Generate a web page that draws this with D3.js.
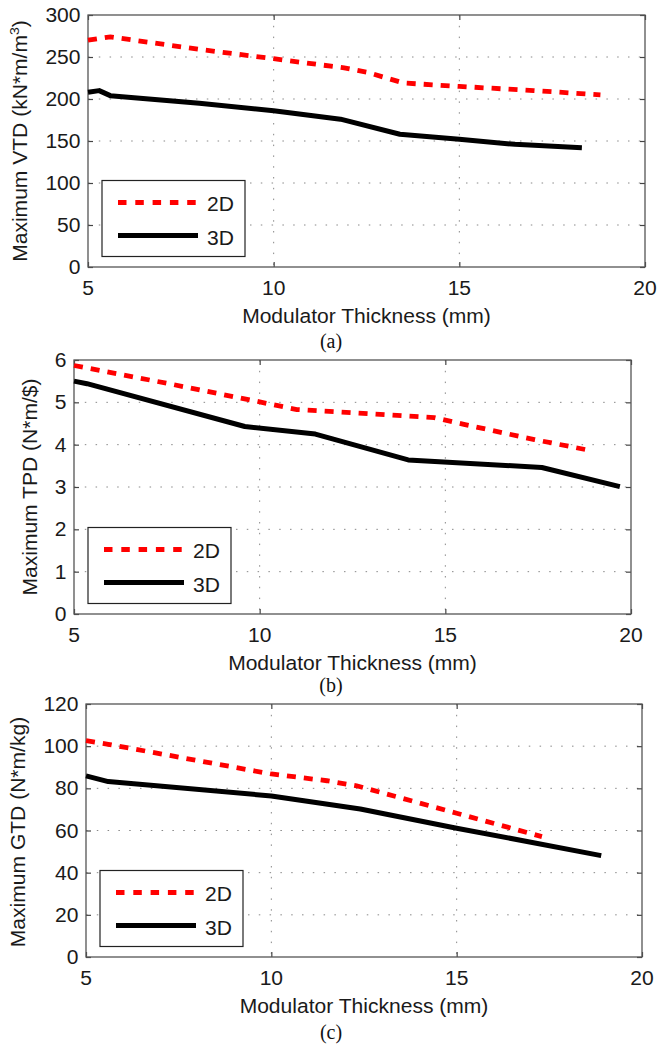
<!DOCTYPE html>
<html>
<head>
<meta charset="utf-8">
<script src="https://cdn.jsdelivr.net/npm/d3@7"></script>
<style>
  body { margin: 0; background: #fff; }
  svg text { font-family: "Liberation Sans", Arial, sans-serif; fill: #1a1a1a; }
</style>
</head>
<body>
<script>
// x values (mm) and y values, one pair of arrays per curve
var vtd2dX = [5, 5.6, 8, 10, 11.9, 12.5, 13.5, 15, 17, 18.8];
var vtd2dY = [270, 274, 259, 248, 237, 232, 219, 215, 210, 205];
var vtd3dX = [5, 5.3, 5.6, 8, 10, 11.8, 13.4, 15, 16.5, 18.3];
var vtd3dY = [208, 210, 204, 195, 186, 176, 158, 152, 146, 142];

var tpd2dX = [5, 7.5, 10, 11, 13, 14.7, 15.5, 17.4, 18.8];
var tpd2dY = [5.87, 5.45, 5.01, 4.83, 4.73, 4.64, 4.48, 4.12, 3.88];
var tpd3dX = [5, 5.35, 9.6, 11.5, 14, 17.6, 19.7];
var tpd3dY = [5.50, 5.44, 4.43, 4.25, 3.64, 3.46, 3.01];

var gtd2dX = [5, 5.6, 10, 11.5, 12.3, 15, 17.3];
var gtd2dY = [102.6, 100.9, 86.8, 83.6, 81.2, 68.2, 57.1];
var gtd3dX = [5, 5.6, 10, 12.4, 15, 18.9];
var gtd3dY = [85.9, 83.2, 76.4, 70.2, 61.1, 48.1];

var xTicks = [5, 10, 15, 20];
var vtdTicks = [0, 50, 100, 150, 200, 250, 300];
var tpdTicks = [0, 1, 2, 3, 4, 5, 6];
var gtdTicks = [0, 20, 40, 60, 80, 100, 120];

var seriesNames = ['2D', '3D'];
var xTitle = 'Modulator Thickness (mm)';

var FS = 19.5, SX = 1.08;   // font is a bit wide in the picture

var svg = d3.select('body').append('svg')
  .attr('width', 658).attr('height', 1045);

function zip(xs, ys) { return xs.map(function(x, i){ return [x, ys[i]]; }); }

function label(g, txt, x, y, anchor, rot) {
  return g.append('text')
    .attr('transform', 'translate(' + x + ',' + y + ')' + (rot ? ' rotate(' + rot + ')' : '') + ' scale(' + SX + ',1)')
    .attr('text-anchor', anchor)
    .style('font-size', FS + 'px')
    .text(txt);
}

function drawPanel(p) {
  var g = svg.append('g');
  var x = d3.scaleLinear().domain([5, 20]).range([p.left, p.right]);
  var y = d3.scaleLinear().domain([p.yTicks[0], p.yTicks[p.yTicks.length-1]]).range([p.bottom, p.top]);

  // dotted grid
  xTicks.slice(1, -1).forEach(function(t){
    g.append('line').attr('x1', x(t)).attr('x2', x(t)).attr('y1', p.top).attr('y2', p.bottom)
      .attr('stroke', '#888').attr('stroke-width', 1).attr('stroke-dasharray', '1.5,9.3');
  });
  p.yTicks.slice(1, -1).forEach(function(t){
    g.append('line').attr('x1', p.left).attr('x2', p.right).attr('y1', y(t)).attr('y2', y(t))
      .attr('stroke', '#888').attr('stroke-width', 1).attr('stroke-dasharray', '1.5,9.3');
  });

  // axes: ticks inside, on all four sides
  var ax = g.append('g').attr('transform', 'translate(0,' + p.bottom + ')')
    .call(d3.axisBottom(x).tickValues(xTicks).tickSizeInner(-5).tickSizeOuter(0).tickFormat(''));
  var axT = g.append('g').attr('transform', 'translate(0,' + p.top + ')')
    .call(d3.axisTop(x).tickValues(xTicks).tickSizeInner(-5).tickSizeOuter(0).tickFormat(''));
  var ay = g.append('g').attr('transform', 'translate(' + p.left + ',0)')
    .call(d3.axisLeft(y).tickValues(p.yTicks).tickSizeInner(-5).tickSizeOuter(0).tickFormat(''));
  var ayR = g.append('g').attr('transform', 'translate(' + p.right + ',0)')
    .call(d3.axisRight(y).tickValues(p.yTicks).tickSizeInner(-5).tickSizeOuter(0).tickFormat(''));
  [ax, axT, ay, ayR].forEach(function(a){
    a.selectAll('.domain').remove();
    a.selectAll('line').attr('stroke', '#444').attr('stroke-width', 1.2);
  });
  g.append('rect').attr('x', p.left).attr('y', p.top)
    .attr('width', p.right - p.left).attr('height', p.bottom - p.top)
    .attr('fill', 'none').attr('stroke', '#555').attr('stroke-width', 1.3);

  // tick labels
  xTicks.forEach(function(t){ label(g, t, x(t), p.bottom + 28, 'middle'); });
  p.yTicks.forEach(function(t){ label(g, t, p.left - 7.5, y(t) + 7, 'end'); });

  // titles
  label(g, xTitle, (p.left + p.right) / 2, p.bottom + 55.5, 'middle');
  var yl = label(g, p.yTitle, p.yLabelX, p.yLabelY, 'middle', -90);
  if (p.sup) {
    yl.append('tspan').attr('dy', -8).style('font-size', '13px').text(p.sup);
    yl.append('tspan').attr('dy', 8).text(')');
  }
  g.append('text').attr('x', 331).attr('y', p.bottom + p.capDy)
    .attr('text-anchor', 'middle')
    .style('font-family', '"Liberation Serif", "Times New Roman", serif')
    .style('font-size', '20px').style('fill', '#111')
    .text(p.caption);

  // curves
  var line = d3.line().x(function(d){ return x(d[0]); }).y(function(d){ return y(d[1]); });
  g.append('path').datum(zip(p.x2, p.y2)).attr('d', line)
    .attr('fill', 'none').attr('stroke', '#ff0000').attr('stroke-width', 4.8)
    .attr('stroke-dasharray', '9,8');
  g.append('path').datum(zip(p.x3, p.y3)).attr('d', line)
    .attr('fill', 'none').attr('stroke', '#000').attr('stroke-width', 5)
    .attr('stroke-linejoin', 'round');

  // legend
  var bx = p.left + 14, by = p.bottom - 86.5;
  var lg = g.append('g');
  lg.append('rect').attr('x', bx).attr('y', by).attr('width', 143).attr('height', 76)
    .attr('fill', '#fff').attr('stroke', '#222').attr('stroke-width', 1.2);
  lg.append('line').attr('x1', bx + 16).attr('x2', bx + 94).attr('y1', by + 22).attr('y2', by + 22)
    .attr('stroke', '#ff0000').attr('stroke-width', 5).attr('stroke-dasharray', '8.5,8.8');
  lg.append('line').attr('x1', bx + 16).attr('x2', bx + 96).attr('y1', by + 55).attr('y2', by + 55)
    .attr('stroke', '#000').attr('stroke-width', 5);
  label(lg, seriesNames[0], bx + 105, by + 30.5, 'start');
  label(lg, seriesNames[1], bx + 105, by + 64, 'start');
}

var panels = [
  {left: 88, right: 645, top: 15, bottom: 267, yTicks: vtdTicks,
   x2: vtd2dX, y2: vtd2dY, x3: vtd3dX, y3: vtd3dY,
   yTitle: 'Maximum VTD (kN*m/m', sup: '3', yLabelX: 27, yLabelY: 141, caption: '(a)', capDy: 81},
  {left: 74, right: 631, top: 360, bottom: 614, yTicks: tpdTicks,
   x2: tpd2dX, y2: tpd2dY, x3: tpd3dX, y3: tpd3dY,
   yTitle: 'Maximum TPD (N*m/$)', yLabelX: 37, yLabelY: 487, caption: '(b)', capDy: 78},
  {left: 86, right: 642, top: 704, bottom: 957, yTicks: gtdTicks,
   x2: gtd2dX, y2: gtd2dY, x3: gtd3dX, y3: gtd3dY,
   yTitle: 'Maximum GTD (N*m/kg)', yLabelX: 25, yLabelY: 832, caption: '(c)', capDy: 82}
];

panels.map(function(p){ drawPanel(p); });
</script>
</body>
</html>
